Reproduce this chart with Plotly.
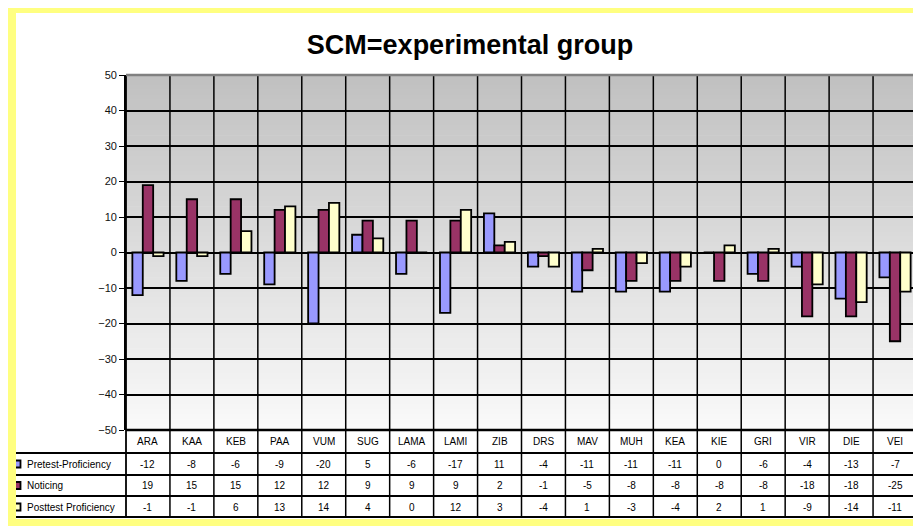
import plotly.graph_objects as go

categories = ["ARA", "KAA", "KEB", "PAA", "VUM", "SUG", "LAMA", "LAMI", "ZIB",
              "DRS", "MAV", "MUH", "KEA", "KIE", "GRI", "VIR", "DIE", "VEI"]
pretest = [-12, -8, -6, -9, -20, 5, -6, -17, 11, -4, -11, -11, -11, 0, -6, -4, -13, -7]
noticing = [19, 15, 15, 12, 12, 9, 9, 9, 2, -1, -5, -8, -8, -8, -8, -18, -18, -25]
posttest = [-1, -1, 6, 13, 14, 4, 0, 12, 3, -4, 1, -3, -4, 2, 1, -9, -14, -11]
series_names = ["Pretest-Proficiency", "Noticing", "Posttest Proficiency"]
series_values = [pretest, noticing, posttest]
series_colors = ["#9999FF", "#993366", "#FFFFCC"]
y_ticks = [-50, -40, -30, -20, -10, 0, 10, 20, 30, 40, 50]

OFF = 8  # page body margin
W_FIG, H_FIG = 921 - OFF, 526 - OFF
L, R, T, B = 126 - OFF, 917 - OFF, 75 - OFF, 430 - OFF
PW, PH = R - L, B - T


def px(x):
    return (x - OFF - L) / PW


def py(y):
    return (B - (y - OFF)) / PH


fig = go.Figure()
for name, vals, col in zip(series_names, series_values, series_colors):
    fig.add_trace(go.Bar(
        x=categories, y=vals, name=name,
        marker=dict(color=col, line=dict(color="black", width=1.8)),
    ))

shapes = []
# gradient background
N = 70
for k in range(N):
    t = (k + 0.5) / N
    g = int(round(192 + (250 - 192) * t))
    y0 = 1 - k / N
    y1 = 1 - (k + 1) / N
    shapes.append(dict(type="rect", xref="paper", yref="paper", x0=0, x1=1,
                       y0=y1, y1=y0 + 0.002, fillcolor=f"rgb({g},{g},{g})",
                       line=dict(width=0), layer="below"))

n = len(categories)
# vertical separators through plot and table
for i in range(1, n):
    shapes.append(dict(type="line", xref="paper", yref="paper",
                       x0=i / n, x1=i / n, y0=py(517), y1=1,
                       line=dict(color="black", width=1.5), layer="between"))
# left axis extension & right edge of table
shapes.append(dict(type="line", xref="paper", yref="paper", x0=0, x1=0,
                   y0=py(517), y1=1, line=dict(color="black", width=1.8)))
shapes.append(dict(type="line", xref="paper", yref="paper", x0=1, x1=1,
                   y0=py(517), y1=0, line=dict(color="black", width=1.8)))
# plot area top/right gray border
shapes.append(dict(type="line", xref="paper", yref="paper", x0=0, x1=1,
                   y0=1, y1=1, line=dict(color="#808080", width=2.5)))
shapes.append(dict(type="line", xref="paper", yref="paper", x0=1, x1=1,
                   y0=0, y1=1, line=dict(color="#808080", width=2.5)))
# table horizontal lines
shapes.append(dict(type="line", xref="paper", yref="paper", x0=0, x1=1,
                   y0=0, y1=0, line=dict(color="black", width=2.4)))
for yy in [453, 475, 496, 517]:
    shapes.append(dict(type="line", xref="paper", yref="paper", x0=px(16), x1=1,
                       y0=py(yy), y1=py(yy), line=dict(color="black", width=1.8)))
# legend keys
row_centers = [464, 485.5, 507]
for yc, col in zip(row_centers, series_colors):
    shapes.append(dict(type="rect", xref="paper", yref="paper",
                       x0=px(13), x1=px(20.5), y0=py(yc + 3.5), y1=py(yc - 3.5),
                       fillcolor=col, line=dict(color="black", width=1.8)))
# yellow outer border
shapes.append(dict(type="rect", xref="paper", yref="paper",
                   x0=px(12), x1=px(940), y0=py(523), y1=py(9),
                   fillcolor="rgba(0,0,0,0)", line=dict(color="#FFFF80", width=8)))

annotations = []
tf = dict(family="Liberation Sans, Arial, sans-serif", size=10, color="black")
for i, c in enumerate(categories):
    annotations.append(dict(text=c, xref="paper", yref="paper", x=(i + 0.5) / n,
                            y=py(441.5), showarrow=False, font=tf,
                            xanchor="center", yanchor="middle"))
for name, vals, yc in zip(series_names, series_values, row_centers):
    annotations.append(dict(text=name, xref="paper", yref="paper", x=px(25),
                            y=py(yc), showarrow=False, font=tf,
                            xanchor="left", yanchor="middle"))
    for i, v in enumerate(vals):
        annotations.append(dict(text=str(v), xref="paper", yref="paper",
                                x=(i + 0.5) / n, y=py(yc), showarrow=False,
                                font=tf, xanchor="center", yanchor="middle"))

fig.update_layout(
    width=W_FIG, height=H_FIG,
    margin=dict(l=L, r=W_FIG - R, t=T, b=H_FIG - B, pad=0),
    paper_bgcolor="white", plot_bgcolor="rgba(0,0,0,0)",
    barmode="group", bargap=0.29, bargroupgap=0,
    showlegend=False,
    title=dict(text="<b>SCM=experimental group</b>", x=(470 - OFF) / W_FIG,
               xanchor="center", y=1 - (45 - OFF) / H_FIG, yanchor="middle",
               font=dict(family="Liberation Sans, Arial, sans-serif", size=27,
                         color="black")),
    xaxis=dict(showticklabels=False, showgrid=False, zeroline=False, ticks="",
               range=[-0.5, n - 0.5]),
    yaxis=dict(range=[-50, 50], tickvals=y_ticks, showgrid=True, gridcolor="black",
               gridwidth=1.5, zeroline=True, zerolinecolor="black", zerolinewidth=1.8,
               showline=True, linecolor="black", linewidth=1.8, ticks="outside",
               ticklen=5, tickcolor="black",
               tickfont=dict(family="Liberation Sans, Arial, sans-serif", size=11,
                             color="#111")),
    shapes=shapes, annotations=annotations,
)

fig.write_html("out.html")
